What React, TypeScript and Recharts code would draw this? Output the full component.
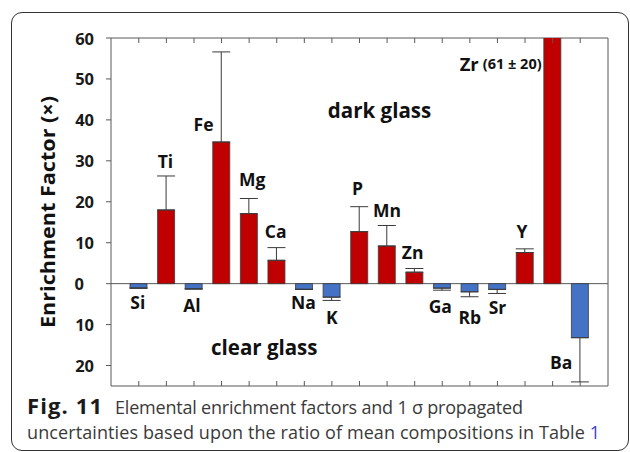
import React from 'react';
import { ComposedChart, Bar, XAxis, YAxis, ErrorBar, Cell, CartesianGrid, ReferenceDot, Label } from 'recharts';

const elements = ['Si', 'Ti', 'Al', 'Fe', 'Mg', 'Ca', 'Na', 'K', 'P', 'Mn', 'Zn', 'Ga', 'Rb', 'Sr', 'Y', 'Zr', 'Ba'];
const factors = [-1.1, 18.0, -1.3, 34.6, 17.1, 5.7, -1.4, -3.3, 12.7, 9.2, 2.8, -1.1, -2.0, -1.4, 7.6, 61, -13.2];
const uncertainties = [0, 8.3, 0, 22.0, 3.7, 3.1, 0, 0.8, 6.1, 5.0, 0.9, 0.5, 1.2, 1.0, 0.9, 20, 10.8];
const yTicks = [-20, -10, 0, 10, 20, 30, 40, 50, 60];
const yDomain = [-25, 60];
// label anchor heights (data units) and small horizontal nudges (px)
const labelY = [-4.45, 29.9, -5.25, 39.1, 25.5, 12.8, -4.45, -8.25, 23.25, 17.95, 7.8, -5.5, -8.1, -5.67, 12.9, 53.8, -19.1];
const labelDx = [-1, -1, -2, -18, 3, -1, -1, 0, -2, 0, -2, -2, 0, 0, -3, -11, -19];

const RED = '#C00000';
const BLUE = '#4472C4';
const AXIS = '#595959';
const FONT = '"Open Sans", "Noto Sans", sans-serif';
const W = 630;
const H = 452;
const MARGIN = { top: 38, right: 22, bottom: 66, left: 0 };

const data = elements.map((name, i) => ({
  name,
  value: factors[i],
  err: factors[i] >= 0 ? [0, uncertainties[i]] : [uncertainties[i], 0],
}));

const YTick = (props: any) => {
  const { x, y, payload } = props;
  const v = payload.value;
  const shift = v === 0 ? -10 : 0;
  return (
    <g>
      <line x1={x + 2} x2={x + 7} y1={y} y2={y} stroke={AXIS} strokeWidth={1} />
      <text x={x - 10 + shift} y={y} textAnchor="end" dominantBaseline="central"
        fontFamily={FONT} fontWeight={700} fontSize={16.5} fill="#1a1a1a">
        {Math.abs(v)}
      </text>
    </g>
  );
};

// inward tick marks on the bottom edge of the plot frame
const CatTick = (props: any) => {
  const { x, y } = props;
  const bottom = y + 7;
  return (
    <g>
      <line x1={x} x2={x} y1={bottom - 5} y2={bottom} stroke={AXIS} strokeWidth={1} />
    </g>
  );
};

// inward tick marks on the top edge, anchored at the top of the value domain
const topTick = (props: any) => {
  const vb = props.viewBox;
  const x = vb.x + vb.width / 2;
  const y = vb.y + vb.height / 2;
  return <line x1={x} x2={x} y1={y} y2={y + 5} stroke={AXIS} strokeWidth={1} />;
};

const hGen = (p: any) => {
  const { offset, yAxis } = p;
  const s = yAxis && yAxis.scale;
  const z = typeof s === 'function' ? s(0) : offset.top + (offset.height * yDomain[1]) / (yDomain[1] - yDomain[0]);
  return [offset.top, z, offset.top + offset.height];
};
const vGen = (p: any) => {
  const { offset } = p;
  return [offset.left, offset.left + offset.width];
};

const makeLabel = (text: string, dx: number, zr: boolean) => (props: any) => {
  const vb = props.viewBox;
  const x = vb.x + vb.width / 2 + dx;
  const y = vb.y + vb.height / 2;
  if (zr) {
    return (
      <text x={x} y={y} textAnchor="end" dominantBaseline="central" fontFamily={FONT} fontWeight={700} fill="#111">
        <tspan fontSize={18.5}>{text}</tspan>
        <tspan fontSize={14.5} dx={4}>(61 ± 20)</tspan>
      </text>
    );
  }
  return (
    <text x={x} y={y} textAnchor="middle" dominantBaseline="central" fontFamily={FONT} fontWeight={700} fontSize={17.5} fill="#111">
      {text}
    </text>
  );
};

const bigLabel = (text: string, dx: number) => (props: any) => {
  const vb = props.viewBox;
  return (
    <text x={vb.x + vb.width / 2 + dx} y={vb.y + vb.height / 2} textAnchor="middle" dominantBaseline="central"
      fontFamily={FONT} fontWeight={700} fontSize={20.5} fill="#111">
      {text}
    </text>
  );
};

const YTitle = (props: any) => {
  const vb = props.viewBox;
  const cx = vb.x + 47;
  const cy = vb.y + vb.height / 2;
  return (
    <text x={cx} y={cy} transform={`rotate(-90, ${cx}, ${cy})`} textAnchor="middle" dominantBaseline="central"
      fontFamily={FONT} fontWeight={700} fontSize={19.5} fill="#111" textLength={232} lengthAdjust="spacingAndGlyphs">
      Enrichment Factor (×)
    </text>
  );
};

export default function App() {
  return (
    <div style={{ position: 'absolute', left: 0, top: 0, width: W, height: H, overflow: 'hidden', background: '#fff' }}>
      <div style={{ position: 'absolute', left: 0, top: 0 }}>
        <ComposedChart width={W} height={H} data={data} margin={MARGIN}>
          <CartesianGrid stroke={AXIS} strokeWidth={1} fill="none"
            horizontalCoordinatesGenerator={hGen} verticalCoordinatesGenerator={vGen} />
          <XAxis dataKey="name" orientation="bottom" mirror height={1} tick={<CatTick />} interval={0}
            tickSize={5} padding={{ left: 14, right: 14 }} axisLine={false} tickLine={false} />
          <YAxis type="number" domain={yDomain} ticks={yTicks} allowDataOverflow width={111}
            tick={<YTick />} tickSize={5} axisLine={false} tickLine={false}
            label={<Label content={YTitle} />} />
          <Bar dataKey="value" barSize={17} isAnimationActive={false} stroke="#3a3a3a" strokeWidth={0.8}>
            {data.map((d, i) => (
              <Cell key={i} fill={d.value >= 0 ? RED : BLUE} />
            ))}
            <ErrorBar dataKey="err" width={9} stroke="#3a3a3a" strokeWidth={1} direction="y" />
          </Bar>
          {elements.map((el) => (
            <ReferenceDot key={'top-' + el} x={el} y={yDomain[1]} r={0} fill="none" stroke="none"
              label={<Label content={topTick} />} />
          ))}
          {elements.map((el, i) => (
            <ReferenceDot key={el} x={el} y={labelY[i]} r={0} fill="none" stroke="none"
              label={<Label content={makeLabel(el, labelDx[i], el === 'Zr')} />} />
          ))}
          <ReferenceDot x="P" y={42.4} r={0} fill="none" stroke="none"
            label={<Label content={bigLabel('dark glass', 20)} />} />
          <ReferenceDot x="Ca" y={-15.4} r={0} fill="none" stroke="none"
            label={<Label content={bigLabel('clear glass', -12.5)} />} />
        </ComposedChart>
      </div>
      <div style={{ position: 'absolute', left: 540, top: 0, width: 26, height: 37, background: '#fff' }} />
      <div style={{ position: 'absolute', left: 11, top: 12, width: 616, height: 437, border: '1.3px solid #333', borderRadius: 11 }} />
      <div style={{ position: 'absolute', left: 27, top: 393, width: 600, fontFamily: FONT, fontSize: 18, lineHeight: '25px', color: '#3a3a3a', whiteSpace: 'nowrap' }}>
        <span style={{ display: 'inline-block', width: 88, fontWeight: 700, fontSize: 22, letterSpacing: 1.1, color: '#1a1a1a' }}>Fig. 11</span>
        <span style={{ letterSpacing: -0.2 }}>Elemental enrichment factors and 1 σ propagated</span>
        <br />
        <span style={{ letterSpacing: 0.1 }}>uncertainties based upon the ratio of mean compositions in Table </span>
        <span style={{ color: '#3b3bd6' }}>1</span>
      </div>
    </div>
  );
}
